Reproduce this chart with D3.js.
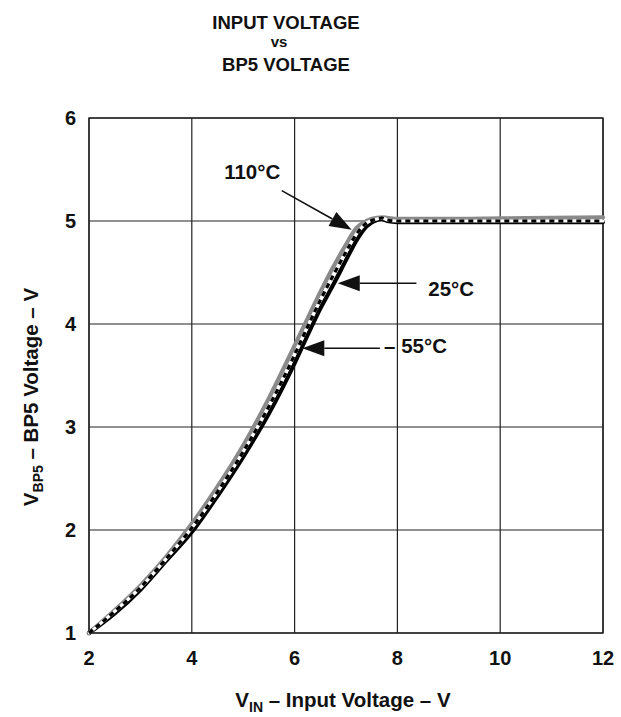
<!DOCTYPE html>
<meta charset="utf-8">
<style>
  body { margin: 0; background: #fff; }
  svg text {
    font-family: "Liberation Sans", Arial, Helvetica, sans-serif;
    font-weight: bold;
    fill: #111;
  }
  .grid line { stroke: #222; stroke-width: 1.2; }
  .frame { fill: none; stroke: #222; stroke-width: 1.4; }
  .tick-label { font-size: 20px; }
  .title { font-size: 18.5px; text-anchor: middle; }
  .title-vs { font-size: 15px; text-anchor: middle; }
  .axis-label { font-size: 20.5px; }
  .temp-label { font-size: 20.5px; }
  .arrow line { stroke: #111; stroke-width: 1.6; }
  .arrow path { fill: #111; }
  .curve { fill: none; stroke-linejoin: round; stroke-linecap: round; }
</style>
<body>
<div id="vis"></div>
<script src="https://cdn.jsdelivr.net/npm/d3@7"></script>
<script>

// values
const xTicks = [2, 4, 6, 8, 10, 12];
const yTicks = [1, 2, 3, 4, 5, 6];
const vin = [2, 2.5, 3, 3.5, 4, 4.5, 5, 5.5, 6, 6.25, 6.5, 6.75, 7, 7.2, 7.4, 7.6, 7.7, 7.8, 8, 9, 10, 11, 12];
const bp5_110 = [1.0, 1.22, 1.46, 1.74, 2.06, 2.42, 2.82, 3.28, 3.79, 4.05, 4.31, 4.55, 4.77, 4.93, 5.0, 5.03, 5.035, 5.03, 5.02, 5.02, 5.025, 5.03, 5.035];
const bp5_25 = [1.0, 1.21, 1.44, 1.72, 2.02, 2.37, 2.76, 3.2, 3.70, 3.97, 4.23, 4.47, 4.70, 4.87, 4.98, 5.02, 5.03, 5.01, 5.0, 5.0, 5.0, 5.0, 5.0];
const bp5_m55 = [1.0, 1.19, 1.42, 1.70, 1.98, 2.33, 2.71, 3.13, 3.62, 3.89, 4.15, 4.38, 4.62, 4.81, 4.95, 5.01, 5.02, 5.0, 4.99, 4.99, 4.99, 4.99, 4.99];
const tempLabels = ['110°C', '25°C', '– 55°C'];

const width = 621,
    height = 717;
let margin = {l: 89, r: 18, t: 118, b: 84};
let innerW = width - margin.l - margin.r;
let innerH = height - margin.t - margin.b;

let x = d3.scaleLinear().domain([2, 12]).range([0, innerW]);
let y = d3.scaleLinear().domain([1, 6]).range([innerH, 0]);

const svg = d3.select('#vis').append('svg')
    .attr('width', width)
    .attr('height', height);

// title
svg.append('text').attr('class', 'title').attr('x', 286).attr('y', 29).text('INPUT VOLTAGE');
svg.append('text').attr('class', 'title-vs').attr('x', 279).attr('y', 47).text('vs');
svg.append('text').attr('class', 'title').attr('x', 286).attr('y', 71).text('BP5 VOLTAGE');

const g = svg.append('g').attr('transform', 'translate(' + [margin.l, margin.t] + ')');

// grid
let grid = g.append('g').attr('class', 'grid');
grid.selectAll('.gx').data(xTicks).enter().append('line')
    .attr('x1', d => x(d)).attr('x2', d => x(d))
    .attr('y1', 0).attr('y2', innerH);
grid.selectAll('.gy').data(yTicks).enter().append('line')
    .attr('x1', 0).attr('x2', innerW)
    .attr('y1', d => y(d)).attr('y2', d => y(d));
g.append('rect').attr('class', 'frame').attr('width', innerW).attr('height', innerH);

// tick labels
g.selectAll('.xl').data(xTicks).enter().append('text')
    .attr('class', 'tick-label')
    .attr('x', d => x(d))
    .attr('y', innerH + 32)
    .style('text-anchor', 'middle')
    .text(d => d);
g.selectAll('.yl').data(yTicks).enter().append('text')
    .attr('class', 'tick-label')
    .attr('x', -13)
    .attr('y', d => y(d))
    .attr('dy', '0.35em')
    .style('text-anchor', 'end')
    .text(d => d);

// axis titles
let xt = svg.append('text').attr('class', 'axis-label')
    .attr('x', margin.l + innerW / 2 - 3)
    .attr('y', 707)
    .style('text-anchor', 'middle');
xt.append('tspan').text('V');
xt.append('tspan').attr('dy', 5).style('font-size', '14px').text('IN');
xt.append('tspan').attr('dy', -5).text(' – Input Voltage – V');

let yt = svg.append('text').attr('class', 'axis-label')
    .attr('transform', 'translate(38,397) rotate(-90)')
    .style('text-anchor', 'middle');
yt.append('tspan').text('V');
yt.append('tspan').attr('dy', 5).style('font-size', '14px').text('BP5');
yt.append('tspan').attr('dy', -5).text(' – BP5 Voltage – V');

// curves
const line = d3.line()
    .x((d, i) => x(vin[i]))
    .y(d => y(d))
    .curve(d3.curveMonotoneX);

g.append('path').attr('class', 'curve')
    .attr('d', line(bp5_110))
    .style('stroke', '#8a8a8a').style('stroke-width', 4.2);
g.append('path').attr('class', 'curve')
    .attr('d', line(bp5_m55))
    .style('stroke', '#000').style('stroke-width', 4.2);
g.append('path').attr('class', 'curve')
    .attr('d', line(bp5_25))
    .style('stroke', '#fff').style('stroke-width', 3.2);
g.append('path').attr('class', 'curve')
    .attr('d', line(bp5_25))
    .style('stroke', '#000').style('stroke-width', 3.2)
    .style('stroke-linecap', 'butt')
    .style('stroke-dasharray', '5,4');

// annotations: label position and arrow, in data units
const annot = [
  {text: tempLabels[0], tx: 4.63, ty: 5.405, x0: 5.75, y0: 5.295, x1: 7.11, y1: 4.915},
  {text: tempLabels[1], tx: 8.60, ty: 4.275, x0: 8.37, y0: 4.395, x1: 6.84, y1: 4.395},
  {text: tempLabels[2], tx: 7.74, ty: 3.716, x0: 7.66, y0: 3.764, x1: 6.15, y1: 3.764}
];

const headLen = 22, headHalf = 8;
annot.forEach(a => {
  g.append('text').attr('class', 'temp-label')
      .attr('x', x(a.tx)).attr('y', y(a.ty))
      .text(a.text);
  let px0 = x(a.x0), py0 = y(a.y0), px1 = x(a.x1), py1 = y(a.y1);
  let dx = px1 - px0, dy = py1 - py0, u = Math.sqrt(dx * dx + dy * dy);
  let ux = dx / u, uy = dy / u;
  let bx = px1 - ux * headLen, by = py1 - uy * headLen;
  let ag = g.append('g').attr('class', 'arrow');
  ag.append('line').attr('x1', px0).attr('y1', py0).attr('x2', bx).attr('y2', by);
  ag.append('path').attr('d', 'M' + px1 + ',' + py1
      + ' L' + (bx - uy * headHalf) + ',' + (by + ux * headHalf)
      + ' L' + (bx + uy * headHalf) + ',' + (by - ux * headHalf) + ' Z');
});

</script>
</body>
